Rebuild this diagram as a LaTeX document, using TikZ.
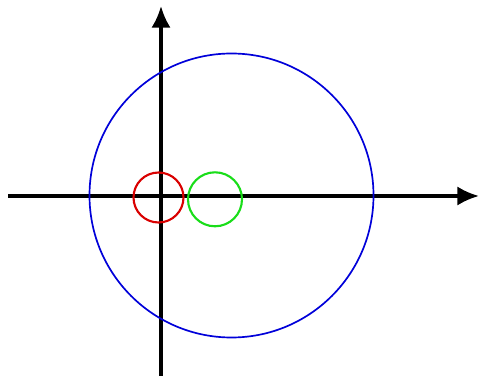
\documentclass[tikz,border=0pt]{standalone}
\usepackage{tikz}
\usetikzlibrary{arrows.meta}

\begin{document}
\begin{tikzpicture}[x=0.025cm,y=-0.025cm]
  \useasboundingbox (0,0) rectangle (480,379);
  % axes
  \draw[-{Latex[length=5.4mm,width=4.8mm]},line width=2.4pt] (8,196) -- (479,196);
  \draw[-{Latex[length=5.4mm,width=4.8mm]},line width=2.4pt] (161,376) -- (161,6);
  % the three circles
  \draw[blue!85!black,line width=1.2pt] (231.5,195.5) circle (142);
  \draw[red!85!black,line width=1.5pt] (158.5,197.5) circle (25);
  \draw[green!85!black!90,line width=1.5pt] (215,199.3) circle (27);
\end{tikzpicture}
\end{document}
